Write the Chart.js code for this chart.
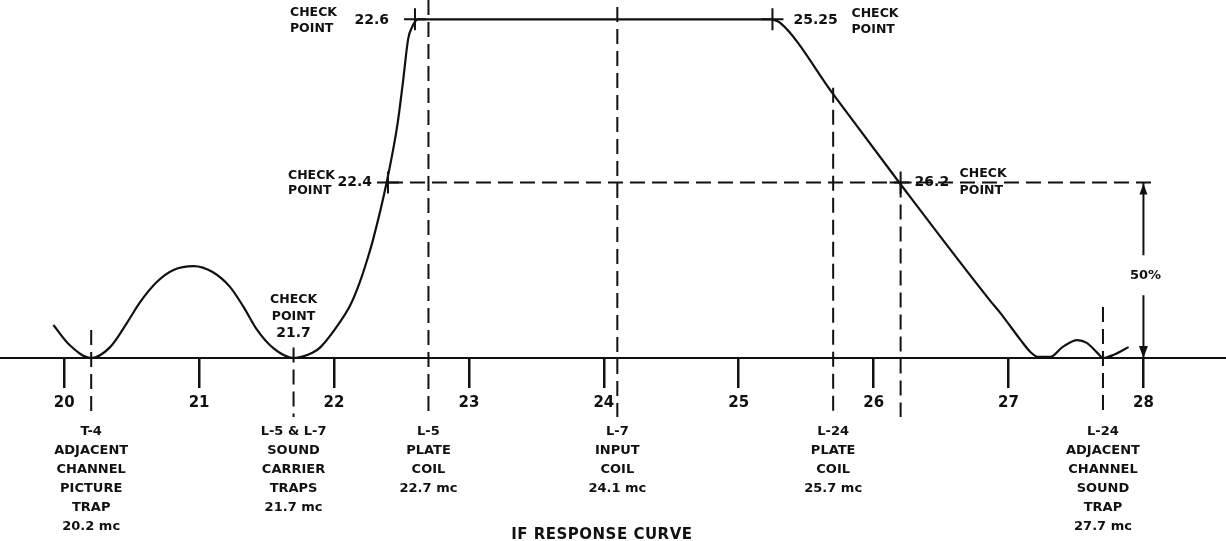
<!DOCTYPE html>
<html>
<head>
<meta charset="utf-8">
<title>IF Response Curve</title>
<script src="https://cdn.jsdelivr.net/npm/chart.js@4.4.1/dist/chart.umd.min.js"></script>
<style>
    html, body { margin: 0; padding: 0; background: #ffffff; }
    canvas { display: block; }
</style>
</head>
<body>
<canvas id="ifChart" width="1226" height="541"></canvas>
<script>
const ink = '#111111';
const FONT = "'DejaVu Sans', sans-serif";

// Frequency axis (mc)
const tickValues = [20, 21, 22, 23, 24, 25, 26, 27, 28];

// Response curve: frequency (mc) and relative response (%)
const curveFreqs = [19.92, 20.04, 20.20, 20.34, 20.47, 20.56, 20.69, 20.81, 20.96, 21.10, 21.23, 21.33, 21.43, 21.55,
    21.70, 21.84, 21.90, 22.04, 22.12, 22.19, 22.25, 22.29, 22.39, 22.47, 22.51, 22.55, 22.58, 22.62,
    25.23, 25.31, 25.70, 26.18, 26.86,
    26.94, 27.09, 27.16, 27.22, 27.31, 27.40, 27.51, 27.58, 27.66, 27.70, 27.78, 27.89];
const curveLevels = [9.4, 3.7, 0, 3.1, 10.3, 15.8, 21.8, 25.1, 26.2, 24.5, 20.2, 14.5, 8.0, 2.8,
    0, 1.5, 3.1, 10.0, 15.0, 21.5, 28.5, 33.8, 50, 66.5, 78.3, 91.0, 94.4, 96.5,
    96.5, 95.4, 75.2, 50.5, 16.5,
    12.8, 5.1, 1.8, 0.3, 0.3, 3.1, 5.1, 4.3, 1.4, 0, 0.9, 3.1];

// Check points marked with a cross
const checkFreqs = [22.6, 22.4, 25.25, 26.2];
const checkLevels = [96.5, 50, 96.5, 50];
const bottomCheck = 21.7;

// Adjustment frequencies (dashed verticals) and their labels under the axis
const coilFreqs = [20.2, 21.7, 22.7, 24.1, 25.7, 26.2, 27.7];
const coilTops = [8, 3, 102, 100, 77, 50, 14.5];
const coilLabels = [
    ['T-4', 'ADJACENT', 'CHANNEL', 'PICTURE', 'TRAP', '20.2 mc'],
    ['L-5 & L-7', 'SOUND', 'CARRIER', 'TRAPS', '21.7 mc'],
    ['L-5', 'PLATE', 'COIL', '22.7 mc'],
    ['L-7', 'INPUT', 'COIL', '24.1 mc'],
    ['L-24', 'PLATE', 'COIL', '25.7 mc'],
    [],
    ['L-24', 'ADJACENT', 'CHANNEL', 'SOUND', 'TRAP', '27.7 mc']
];
const dashBottom = -16.8;

// 50% reference line and arrow
const halfLevel = 50;
const halfLineStart = 22.4;
const halfLineEnd = 28.07;
const arrowFreq = 28;
const chartTitle = 'IF RESPONSE CURVE';

const dashed = [15, 7];

const datasets = [
    {
        label: 'response',
        data: curveFreqs.map((f, i) => ({ x: f, y: curveLevels[i] })),
        borderColor: ink,
        borderWidth: 2.2,
        pointRadius: 0,
        cubicInterpolationMode: 'monotone',
        fill: false
    },
    {
        label: 'half',
        data: [{ x: halfLineStart, y: halfLevel }, { x: halfLineEnd, y: halfLevel }],
        borderColor: ink,
        borderWidth: 2,
        borderDash: dashed,
        pointRadius: 0
    },
    {
        label: 'check points',
        data: checkFreqs.map((f, i) => ({ x: f, y: checkLevels[i] })),
        showLine: false,
        pointStyle: 'cross',
        pointRadius: 11,
        pointBorderWidth: 2,
        pointBorderColor: ink,
        clip: false
    }
];

coilFreqs.forEach((f, i) => {
    datasets.push({
        label: 'coil ' + f,
        data: [{ x: f, y: coilTops[i] }, { x: f, y: dashBottom }],
        borderColor: ink,
        borderWidth: 2,
        borderDash: dashed,
        pointRadius: 0,
        clip: false
    });
});

// where the check point texts sit around each cross (pixels)
const checkLayout = [
    { side: 'left', num: 26, word: 125, dyWord: [-7, 9], dyNum: 1 },
    { side: 'left', num: 16, word: 100, dyWord: [-7, 8], dyNum: 0 },
    { side: 'right', num: 21, word: 79, dyWord: [-6, 10], dyNum: 1 },
    { side: 'right', num: 14, word: 59, dyWord: [-9, 8], dyNum: 0 }
];

const labelPlugin = {
    id: 'labels',
    afterDraw(chart) {
        const { ctx, scales: { x, y } } = chart;
        const base = chart.chartArea.bottom;
        ctx.save();
        ctx.fillStyle = ink;
        ctx.strokeStyle = ink;
        ctx.textBaseline = 'middle';

        // coil labels under the axis
        ctx.font = `bold 13px ${FONT}`;
        ctx.textAlign = 'center';
        coilLabels.forEach((lines, i) => {
            const px = x.getPixelForValue(coilFreqs[i]);
            lines.forEach((t, j) => ctx.fillText(t, px, base + 74 + j * 19));
        });

        // check point texts
        checkFreqs.forEach((f, i) => {
            const px = x.getPixelForValue(f);
            const py = y.getPixelForValue(checkLevels[i]);
            const lay = checkLayout[i];
            ctx.font = `bold 14px ${FONT}`;
            if (lay.side === 'left') {
                ctx.textAlign = 'right';
                ctx.fillText(String(f), px - lay.num, py + lay.dyNum);
                ctx.textAlign = 'left';
                ctx.font = `bold 12.5px ${FONT}`;
                ctx.fillText('CHECK', px - lay.word, py + lay.dyWord[0]);
                ctx.fillText('POINT', px - lay.word, py + lay.dyWord[1]);
            } else {
                ctx.textAlign = 'left';
                ctx.fillText(String(f), px + lay.num, py + lay.dyNum);
                ctx.font = `bold 12.5px ${FONT}`;
                ctx.fillText('CHECK', px + lay.word, py + lay.dyWord[0]);
                ctx.fillText('POINT', px + lay.word, py + lay.dyWord[1]);
            }
        });

        // check point at the sound trap
        const cx = x.getPixelForValue(bottomCheck);
        ctx.textAlign = 'center';
        ctx.font = `bold 12.5px ${FONT}`;
        ctx.fillText('CHECK', cx, base - 58);
        ctx.fillText('POINT', cx, base - 41);
        ctx.font = `bold 14px ${FONT}`;
        ctx.fillText(String(bottomCheck), cx, base - 25);

        // 50% arrow
        const ax = x.getPixelForValue(arrowFreq);
        const yTop = y.getPixelForValue(halfLevel);
        const yBot = y.getPixelForValue(0);
        const yMid = (yTop + yBot) / 2 + 5;
        ctx.lineWidth = 2;
        ctx.beginPath();
        ctx.moveTo(ax, yTop);
        ctx.lineTo(ax, yMid - 20);
        ctx.moveTo(ax, yMid + 20);
        ctx.lineTo(ax, yBot);
        ctx.stroke();
        ctx.beginPath();
        ctx.moveTo(ax, yTop + 1);
        ctx.lineTo(ax - 4, yTop + 12);
        ctx.lineTo(ax + 4, yTop + 12);
        ctx.closePath();
        ctx.moveTo(ax, yBot);
        ctx.lineTo(ax - 4.5, yBot - 12);
        ctx.lineTo(ax + 4.5, yBot - 12);
        ctx.closePath();
        ctx.fill();
        ctx.font = `bold 13px ${FONT}`;
        ctx.fillText(halfLevel + '%', ax + 2, yMid);

        // title
        ctx.font = `bold 15px ${FONT}`;
        ctx.letterSpacing = '0.5px';
        ctx.fillText(chartTitle, x.getPixelForValue(24) - 2, chart.height - 6);
        ctx.restore();
    }
};

new Chart(document.getElementById('ifChart'), {
    type: 'line',
    data: { datasets },
    options: {
        responsive: false,
        animation: false,
        layout: { padding: 0, autoPadding: false },
        plugins: {
            legend: { display: false },
            tooltip: { enabled: false }
        },
        scales: {
            x: {
                type: 'linear',
                min: 19.524,
                max: 28.612,
                afterBuildTicks: scale => { scale.ticks = tickValues.map(v => ({ value: v })); },
                afterFit: scale => { scale.height = 183; },
                grid: {
                    drawOnChartArea: false,
                    drawTicks: true,
                    tickLength: 30,
                    lineWidth: 2.5,
                    tickWidth: 2.5,
                    tickColor: ink
                },
                border: { display: true, color: ink, width: 2 },
                ticks: {
                    color: ink,
                    font: { family: FONT, size: 15, weight: 'bold' },
                    padding: 6,
                    maxRotation: 0,
                    autoSkip: false,
                    callback: v => String(v)
                }
            },
            y: {
                type: 'linear',
                display: false,
                min: 0,
                max: 102
            }
        }
    },
    plugins: [labelPlugin]
});
</script>
</body>
</html>
